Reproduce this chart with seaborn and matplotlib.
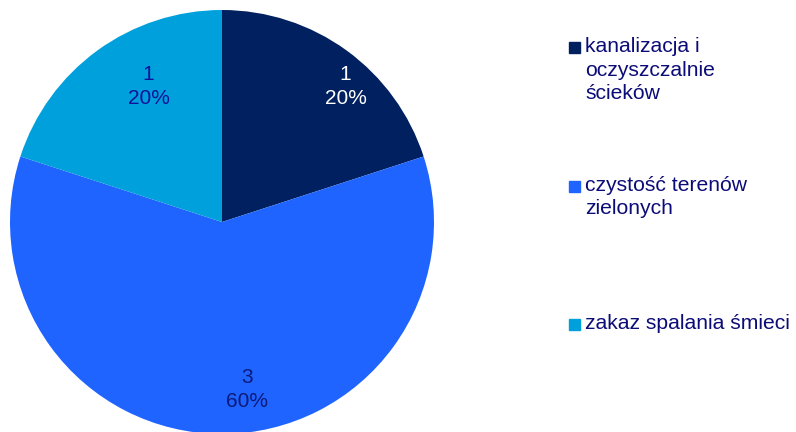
import matplotlib
matplotlib.use('Agg')
import matplotlib.pyplot as plt
import matplotlib.transforms as mtransforms
import seaborn as sns
from matplotlib.patches import Rectangle

sns.set_style('white')
plt.rcParams['font.family'] = ['Liberation Sans', 'DejaVu Sans']

# dane
kategorie = ['kanalizacja i\noczyszczalnie\nścieków', 'czystość terenów\nzielonych', 'zakaz spalania śmieci']
wartosci = [1, 3, 1]
kolory = ['#002060', '#1F64FF', '#00A0DC']
kolory_etykiet = ['white', '#0C1A7A', '#10129A']

fig = plt.figure(figsize=(7.96, 4.32), dpi=100)
ax = fig.add_axes([10 / 796, -2 / 432, 424 / 796, 424 / 432])

suma = sum(wartosci)
wedges, teksty, autoteksty = ax.pie(
    wartosci, colors=kolory, startangle=90, counterclock=False,
    autopct=lambda p: '%d\n%d%%' % (round(p * suma / 100), round(p)),
    pctdistance=0.79, textprops={'fontsize': 15},
    wedgeprops={'linewidth': 0},
)
# Excel przesuwa etykiety lekko w prawo
przesuniecie = mtransforms.ScaledTranslation(0.25, 0, fig.dpi_scale_trans)
for t, c in zip(autoteksty, kolory_etykiet):
    t.set_color(c)
    t.set_linespacing(1.3)
    t.set_transform(t.get_transform() + przesuniecie)
ax.set_xlim(-1, 1)
ax.set_ylim(-1, 1)
ax.set_aspect('equal')

# legenda
pozycje_y = [47, 186, 324]
for lab, kol, y in zip(kategorie, kolory, pozycje_y):
    fig.patches.append(Rectangle((569 / 796, 1 - (y + 6) / 432), 11 / 796, 11 / 432,
                                 transform=fig.transFigure, color=kol))
    fig.text(585 / 796, 1 - (y - 10) / 432, lab, fontsize=15.2, color='#0C0C78',
             va='top', ha='left', linespacing=1.3)

plt.savefig('out.png', dpi=100)
